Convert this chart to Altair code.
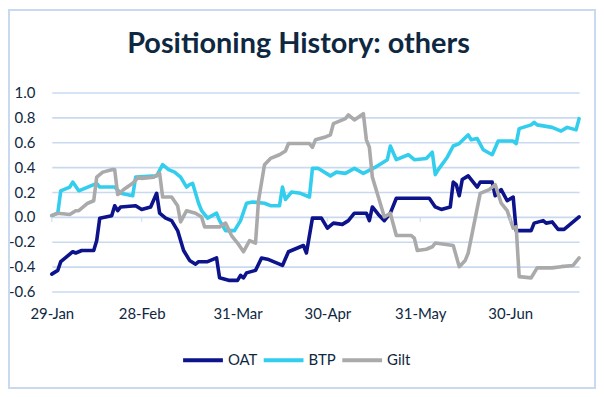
import altair as alt
import pandas as pd

START = "2024-01-29"

oat_days = [0,2,3,7,8,10,14,15,16,18,20,21,22,23,28,30,33,35,36,38,40,42,44,46,48,49,52,55,56,59,62,63,64,65,68,70,72,77,79,80,84,85,87,90,92,94,97,99,101,105,106,107,109,111,113,115,126,128,130,133,134,135,136,137,139,142,143,147,148,150,152,154,155,156,160,161,164,165,167,169,171,174,176]
oat_vals = [-0.46,-0.43,-0.36,-0.28,-0.29,-0.27,-0.27,-0.19,-0.01,0.0,0.01,0.09,0.05,0.08,0.09,0.06,0.08,0.19,0.03,-0.01,-0.03,-0.11,-0.27,-0.35,-0.38,-0.36,-0.36,-0.33,-0.49,-0.51,-0.51,-0.47,-0.49,-0.45,-0.43,-0.33,-0.34,-0.39,-0.28,-0.27,-0.23,-0.29,-0.01,-0.01,-0.09,-0.05,-0.06,-0.03,0.03,0.03,-0.03,0.08,0.02,-0.03,0.03,0.15,0.15,0.08,0.06,0.08,0.28,0.26,0.17,0.30,0.33,0.24,0.28,0.28,0.17,0.22,0.13,0.16,-0.11,-0.11,-0.11,-0.05,-0.03,-0.05,-0.04,-0.10,-0.10,-0.04,0.0]

btp_days = [0,2,3,6,7,9,15,16,21,23,27,28,35,37,39,41,43,45,46,47,49,50,52,55,56,58,61,63,65,67,71,73,76,77,78,80,83,86,87,89,93,95,98,101,104,108,112,113,115,119,121,125,127,128,129,132,134,136,139,140,142,144,147,149,154,155,156,160,161,162,167,170,172,175,176]
btp_vals = [0.01,0.03,0.21,0.24,0.28,0.21,0.27,0.24,0.24,0.19,0.17,0.32,0.33,0.42,0.38,0.36,0.32,0.24,0.26,0.27,0.11,0.05,-0.01,0.03,-0.03,-0.11,-0.11,-0.03,0.11,0.12,0.11,0.09,0.09,0.24,0.14,0.20,0.19,0.16,0.39,0.39,0.33,0.36,0.35,0.39,0.35,0.40,0.46,0.57,0.46,0.50,0.46,0.47,0.52,0.34,0.38,0.48,0.57,0.59,0.66,0.62,0.63,0.54,0.50,0.61,0.61,0.59,0.71,0.74,0.76,0.74,0.72,0.69,0.72,0.70,0.79]

gilt_days = [0,2,6,8,9,12,14,15,17,20,21,22,24,27,29,30,34,36,37,40,42,43,45,48,50,51,56,58,60,62,64,66,68,69,71,73,76,78,79,86,87,88,91,93,94,97,98,99,101,104,105,106,107,109,111,113,115,120,121,122,125,127,128,134,136,138,139,141,143,144,146,148,150,152,154,155,156,160,162,167,170,174,176]
gilt_vals = [0.01,0.03,0.02,0.05,0.05,0.11,0.13,0.32,0.36,0.38,0.38,0.18,0.22,0.27,0.32,0.31,0.32,0.35,0.16,0.16,0.09,-0.04,0.05,0.03,0.0,-0.08,-0.08,-0.05,-0.15,-0.21,-0.28,-0.19,-0.21,0.13,0.42,0.47,0.50,0.53,0.59,0.59,0.56,0.62,0.64,0.66,0.75,0.78,0.79,0.82,0.78,0.83,0.62,0.56,0.32,0.16,0.0,0.03,-0.15,-0.15,-0.17,-0.27,-0.26,-0.24,-0.21,-0.23,-0.40,-0.35,-0.29,-0.05,0.19,0.20,0.22,0.26,0.11,0.05,-0.09,-0.08,-0.48,-0.49,-0.41,-0.41,-0.40,-0.39,-0.33]

series_names = ["OAT", "BTP", "Gilt"]
series_colors = ["#0d138a", "#33cdee", "#aaaaaa"]
tick_dates = ["2024-01-29", "2024-02-28", "2024-03-31", "2024-04-30", "2024-05-31", "2024-06-30"]
y_ticks = [-0.6, -0.4, -0.2, 0.0, 0.2, 0.4, 0.6, 0.8, 1.0]

start = pd.Timestamp(START)
frames = []
for name, days, vals in [("OAT", oat_days, oat_vals), ("BTP", btp_days, btp_vals), ("Gilt", gilt_days, gilt_vals)]:
    frames.append(pd.DataFrame({
        "date": [start + pd.Timedelta(days=d) for d in days],
        "value": vals,
        "series": name,
    }))
df = pd.concat(frames, ignore_index=True)
ticks_df = pd.DataFrame({"date": pd.to_datetime(tick_dates), "value": 0.0})

NAVY = "#0e2841"
GRID = "#c9daf0"
W, H = 530, 200
x_domain = [alt.DateTime(year=2024, month=1, date=29), alt.DateTime(year=2024, month=7, date=23)]
x_values = [alt.DateTime(year=int(s[:4]), month=int(s[5:7]), date=int(s[8:])) for s in tick_dates]

x_scale = alt.Scale(domain=x_domain, nice=False)
y_scale = alt.Scale(domain=[-0.6, 1.0], nice=False, zero=False)

x_axis = alt.Axis(values=x_values, format="%d-%b", title=None, grid=False,
                  domain=False, ticks=False, labelFontSize=15, labelColor=NAVY,
                  labelFont="Lato", labelPadding=15, labelFlush=False,
                  labelOverlap=False)
y_axis = alt.Axis(values=y_ticks, title=None, grid=True, gridColor=GRID,
                  gridWidth=1.6, domain=False, ticks=False, labelFontSize=15,
                  labelColor=NAVY, labelFont="Lato", labelPadding=17,
                  labelOverlap=False, labelFlush=False, labelBound=False,
                  labelSeparation=0,
                  labelExpr="(datum.value < 0 ? '-' : '') + format(abs(datum.value), '.1f')")

border = alt.Chart(pd.DataFrame({"k": [0]})).mark_rect(
    fill=None, stroke=GRID, strokeWidth=2
).encode(
    x=alt.value(-43), x2=alt.value(W + 16), y=alt.value(-83), y2=alt.value(H + 97)
)

zero_ticks = alt.Chart(ticks_df).mark_tick(
    orient="vertical", size=5, thickness=1.5, color=GRID, yOffset=2.5
).encode(
    x=alt.X("date:T", scale=x_scale, axis=x_axis),
    y=alt.Y("value:Q", scale=y_scale, axis=y_axis),
)

lines = alt.Chart(df).mark_line(strokeWidth=3.6, strokeJoin="round", strokeCap="round").encode(
    x=alt.X("date:T", scale=x_scale, axis=x_axis),
    y=alt.Y("value:Q", scale=y_scale, axis=y_axis),
    color=alt.Color("series:N",
                    scale=alt.Scale(domain=series_names, range=series_colors),
                    legend=alt.Legend(title=None, orient="none", legendX=130, legendY=247,
                                      direction="horizontal", symbolType="stroke",
                                      symbolSize=1600, symbolStrokeWidth=4,
                                      labelFontSize=15, labelColor=NAVY, labelFont="Lato",
                                      labelOffset=3, columnPadding=-2, padding=0)),
    order=alt.Order("date:T"),
)

chart = alt.layer(border, lines, zero_ticks).properties(
    width=W, height=H,
    background="white",
    title=alt.TitleParams("Positioning History: others", fontSize=29, font="Lato",
                          fontWeight="bold", color=NAVY, anchor="middle", dx=-17, offset=-50),
    autosize=alt.AutoSizeParams(type="none"),
    padding={"left": 44, "top": 84, "right": 17, "bottom": 98},
).configure_view(stroke=None).configure_axis(labelOverlap=False)

chart.save("out.html", embed_options={"renderer": "svg", "actions": False})
